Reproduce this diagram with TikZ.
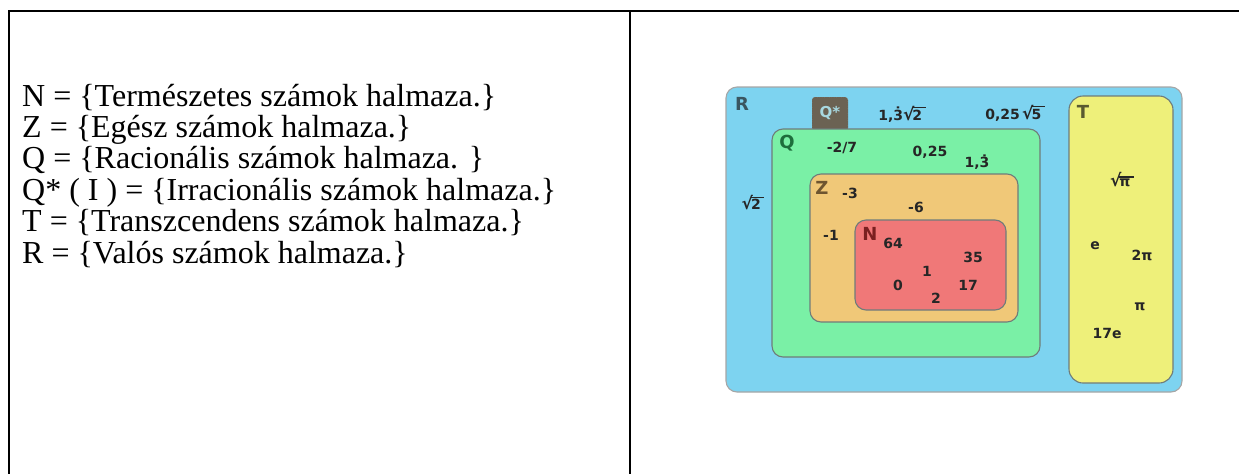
\documentclass[tikz,border=0pt]{standalone}
\usepackage{fontspec}
\setmainfont{Liberation Serif}
\newfontfamily\dvs{DejaVu Sans}
\definecolor{Rfill}{HTML}{7DD3F0}
\definecolor{Qfill}{HTML}{7AF0A6}
\definecolor{Zfill}{HTML}{F0C878}
\definecolor{Nfill}{HTML}{F07878}
\definecolor{Tfill}{HTML}{EEF07A}
\definecolor{Qsfill}{HTML}{6B6253}
\definecolor{edgec}{HTML}{6F7C7A}
\definecolor{Rlbl}{HTML}{3A5560}
\definecolor{Qlbl}{HTML}{1E6E3C}
\definecolor{Zlbl}{HTML}{6E5530}
\definecolor{Nlbl}{HTML}{7A2020}
\definecolor{Tlbl}{HTML}{5A5A30}
\definecolor{Qslbl}{HTML}{A8D8E0}
\newcommand{\rad}[1]{{\fontsize{17}{17}\selectfont √}\kern-0.14em\vbox{\hrule height 0.08em\kern0.12em\hbox{#1\kern0.25em}}}
\tikzset{
  setbox/.style={draw=edgec, line width=1.1pt, rounded corners=11pt},
  num/.style={font=\dvs\bfseries\fontsize{14}{16}\selectfont, text=black!85, inner sep=0pt},
  lbl/.style={font=\dvs\bfseries\fontsize{18}{20}\selectfont, inner sep=0pt},
  deftxt/.style={font=\fontsize{32}{32}\selectfont, anchor=base west, inner sep=0pt},
  tabline/.style={line width=2.4pt, black}
}
\begin{document}
\begin{tikzpicture}[x=1pt,y=-1pt]
\useasboundingbox (0,0) rectangle (1239,474);
% table lines
\draw[tabline] (8,11) -- (1239,11);
\draw[tabline] (9,11) -- (9,474);
\draw[tabline] (630,11) -- (630,474);
% definitions
\node[deftxt] (dN) at (22,106) {N = \{Természetes számok halmaza.\}};
\node[deftxt] (dZ) at (22,137.4) {Z = \{Egész számok halmaza.\}};
\node[deftxt] (dQ) at (22,168.8) {Q = \{Racionális számok halmaza. \}};
\node[deftxt] (dQs) at (22,200.2) {Q* ( I ) = \{Irracionális számok halmaza.\}};
\node[deftxt] (dT) at (22,231.6) {T = \{Transzcendens számok halmaza.\}};
\node[deftxt] (dR) at (22,263) {R = \{Valós számok halmaza.\}};
% sets
\draw[setbox, fill=Rfill, draw=gray!70] (726,87) rectangle (1182,392);
\draw[fill=Qsfill, draw=gray!40, dotted, rounded corners=3pt] (812,97) rectangle (848,131);
\draw[setbox, fill=Qfill] (772,129) rectangle (1040,357);
\draw[setbox, fill=Zfill] (810,174) rectangle (1018,322);
\draw[setbox, fill=Nfill] (855,220) rectangle (1006,310);
\draw[setbox, fill=Tfill, rounded corners=14pt] (1069,96) rectangle (1173,383);
% labels
\node[lbl, text=Rlbl] (lR) at (742,104) {R};
\node[lbl, text=Qslbl, font=\dvs\bfseries\fontsize{15}{17}\selectfont] (lQs) at (830,113) {Q*};
\node[lbl, text=Tlbl] (lT) at (1083,112) {T};
\node[lbl, text=Qlbl] (lQ) at (787,143) {Q};
\node[lbl, text=Zlbl] (lZ) at (822,188) {Z};
\node[lbl, text=Nlbl] (lN) at (870,234) {N};
% numbers
\node[num] (a1) at (902,114) {1,\.{3}\rad{2}};
\node[num] (a2) at (1015,113) {0,25\,\rad{5}};
\node[num] (a3) at (842,148) {-2/7};
\node[num] (a4) at (930,152) {0,25};
\node[num] (a5) at (977,162) {1,\.{3}};
\node[num] (a6) at (1122,180) {\rad{π}};
\node[num] (a7) at (850,193) {-3};
\node[num] (a8) at (753,203) {\rad{2}};
\node[num] (a9) at (916,207) {-6};
\node[num] (a10) at (831,235) {-1};
\node[num] (a11) at (893,243) {64};
\node[num] (a12) at (973,257) {35};
\node[num] (a13) at (927,271) {1};
\node[num] (a14) at (898,285) {0};
\node[num] (a15) at (968,285) {17};
\node[num] (a16) at (936,298) {2};
\node[num] (a17) at (1095,246) {e};
\node[num] (a18) at (1142,255) {2π};
\node[num] (a19) at (1140,307) {π};
\node[num] (a20) at (1107,333) {17e};
\end{tikzpicture}
\end{document}
